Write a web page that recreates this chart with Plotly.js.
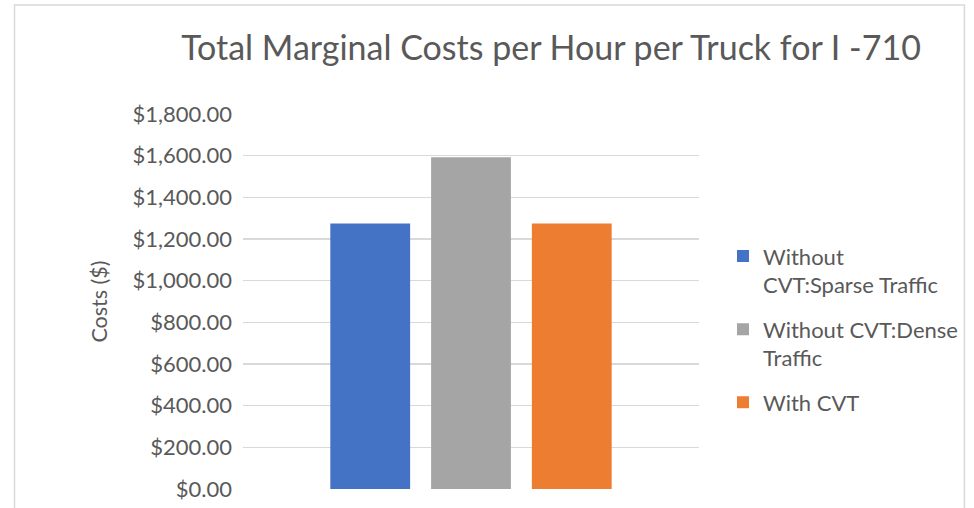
<!DOCTYPE html>
<html>
<head>
<meta charset="utf-8">
<script src="https://cdn.plot.ly/plotly-3.0.1.min.js"></script>
<style>html,body{margin:0;padding:0;background:#fff;}#chart{width:974px;height:508px;}</style>
</head>
<body>
<div id="chart"></div>
<script>
var category = [""];
var seriesNames = ["Without<br>CVT:Sparse Traffic", "Without CVT:Dense<br>Traffic", "With CVT"];
var sparseValues = [1275];
var denseValues = [1592];
var withCvtValues = [1275];
var seriesColors = ["#4472C4", "#A5A5A5", "#ED7D31"];
var tickValues = [0, 200, 400, 600, 800, 1000, 1200, 1400, 1600, 1800];
var tickLabels = ["$0.00", "$200.00", "$400.00", "$600.00", "$800.00", "$1,000.00", "$1,200.00", "$1,400.00", "$1,600.00", "$1,800.00"];

var allValues = [sparseValues, denseValues, withCvtValues];
var FONT = "Lato, 'Open Sans', sans-serif";
var traces = allValues.map(function (v, i) {
  return {
    type: "bar",
    x: category,
    y: v,
    name: seriesNames[i],
    legendgroup: "g" + i,
    marker: { color: seriesColors[i] },
    hoverinfo: "y"
  };
});

var layout = {
  width: 974,
  height: 508,
  margin: { l: 243, r: 274, t: 114, b: 19 },
  paper_bgcolor: "#ffffff",
  plot_bgcolor: "#ffffff",
  barmode: "group",
  bargap: 0.337,
  bargroupgap: 0.208,
  showlegend: true,
  title: {
    text: "Total Marginal Costs per Hour per Truck for I -710",
    font: { family: FONT, size: 34, color: "#595959" },
    x: 551 / 974,
    xanchor: "center",
    y: 1 - 48 / 508,
    yanchor: "middle"
  },
  xaxis: {
    type: "category",
    showticklabels: false,
    showgrid: false,
    zeroline: false,
    showline: false,
    ticks: ""
  },
  yaxis: {
    range: [0, 1800],
    tickvals: tickValues,
    ticktext: tickLabels,
    tickfont: { family: FONT, size: 22, color: "#595959" },
    ticklabelstandoff: 10,
    showgrid: true,
    gridcolor: "#D9D9D9",
    gridwidth: 1.5,
    zeroline: false,
    showline: false,
    ticks: "",
    ticklen: 0,
    title: {
      text: "Costs ($)",
      font: { family: FONT, size: 21.5, color: "#595959" },
      standoff: 18
    }
  },
  legend: {
    x: (723 - 243) / 457,
    xanchor: "left",
    y: 0.677,
    yanchor: "top",
    valign: "top",
    traceorder: "grouped",
    font: { family: FONT, size: 22, color: "#595959" },
    tracegroupgap: 13,
    itemwidth: 30,
    bgcolor: "rgba(0,0,0,0)"
  },
  shapes: [{
    type: "rect",
    xref: "paper",
    yref: "paper",
    x0: (14 - 243) / 457,
    x1: (966 - 243) / 457,
    y0: (489 - 520) / 375,
    y1: (489 - 5) / 375,
    line: { color: "#D9D9D9", width: 1.5 },
    fillcolor: "rgba(0,0,0,0)",
    layer: "below"
  }]
};

Plotly.newPlot("chart", traces, layout, { displayModeBar: false, staticPlot: true });
</script>
</body>
</html>
